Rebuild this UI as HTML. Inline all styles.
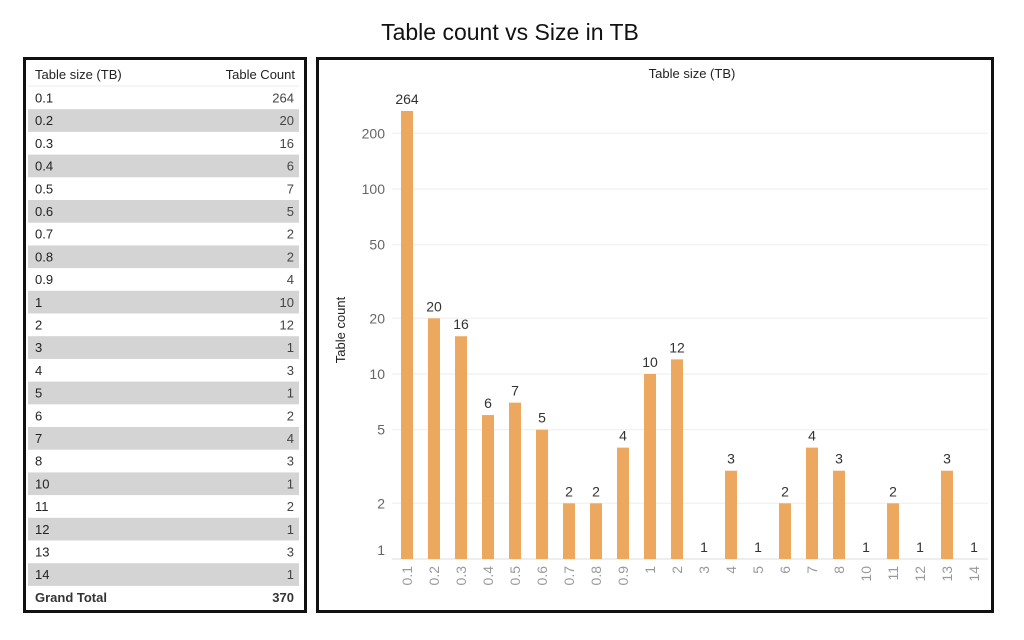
<!DOCTYPE html>
<html><head><meta charset="utf-8"><style>
body{margin:0;background:#fff;width:1024px;height:635px;overflow:hidden}
svg{font-family:"Liberation Sans",sans-serif}
</style></head><body>
<svg width="1024" height="635" xmlns="http://www.w3.org/2000/svg">
<text x="510" y="40" font-size="23" text-anchor="middle" fill="#111">Table count vs Size in TB</text>
<rect x="24.5" y="58.5" width="281" height="553" fill="none" stroke="#111" stroke-width="3"/>
<rect x="317.5" y="58.5" width="675" height="553" fill="none" stroke="#111" stroke-width="3"/>
<g id="tbl" font-size="13" fill="#222"></g>
<g id="ch"></g>
</svg>
<script>
const labels=["0.1","0.2","0.3","0.4","0.5","0.6","0.7","0.8","0.9","1","2","3","4","5","6","7","8","10","11","12","13","14"];
const vals=[264,20,16,6,7,5,2,2,4,10,12,1,3,1,2,4,3,1,2,1,3,1];
let t='<text x="35" y="79">Table size (TB)</text><text x="295" y="79" text-anchor="end">Table Count</text><line x1="28" y1="86" x2="299" y2="86" stroke="#eee"/>';
for(let i=0;i<22;i++){const top=86.5+i*22.7;
 if(i%2==1)t+=`<rect x="28" y="${top}" width="271" height="22.7" fill="#d4d4d4"/>`;
 t+=`<text x="35" y="${top+16}">${labels[i]}</text><text x="294" y="${top+16}" text-anchor="end" fill="#444">${vals[i]}</text>`;}
t+=`<text x="35" y="${86.5+22*22.7+16}" font-weight="bold" fill="#333">Grand Total</text><text x="294" y="${86.5+22*22.7+16}" text-anchor="end" font-weight="bold" fill="#333">370</text>`;
document.getElementById('tbl').innerHTML=t;
const y=v=>559-185*Math.log10(v);
let c='<text x="692" y="78" font-size="13" text-anchor="middle" fill="#222">Table size (TB)</text>';
c+='<text transform="translate(345,330) rotate(-90)" font-size="13" text-anchor="middle" fill="#222">Table count</text>';
[1,2,5,10,20,50,100,200].forEach(v=>{const yy=y(v);c+=`<line x1="392" y1="${yy}" x2="988" y2="${yy}" stroke="#eee"/><text x="385" y="${v==1?yy-4:yy+5}" font-size="14" text-anchor="end" fill="#666">${v}</text>`});
c+='<line x1="392" y1="559" x2="988" y2="559" stroke="#ddd"/>';
for(let i=0;i<22;i++){const x=407+i*27;const top=y(vals[i]);
 if(vals[i]>1)c+=`<rect x="${x-6}" y="${top}" width="12" height="${559-top}" fill="#eda860"/>`;
 c+=`<text x="${x}" y="${top-7}" font-size="14" text-anchor="middle" fill="#333">${vals[i]}</text>`;
 c+=`<text transform="translate(${x+5},566) rotate(-90)" font-size="14" text-anchor="end" fill="#999">${labels[i]}</text>`;}
document.getElementById('ch').innerHTML=c;
</script>
</body></html>
